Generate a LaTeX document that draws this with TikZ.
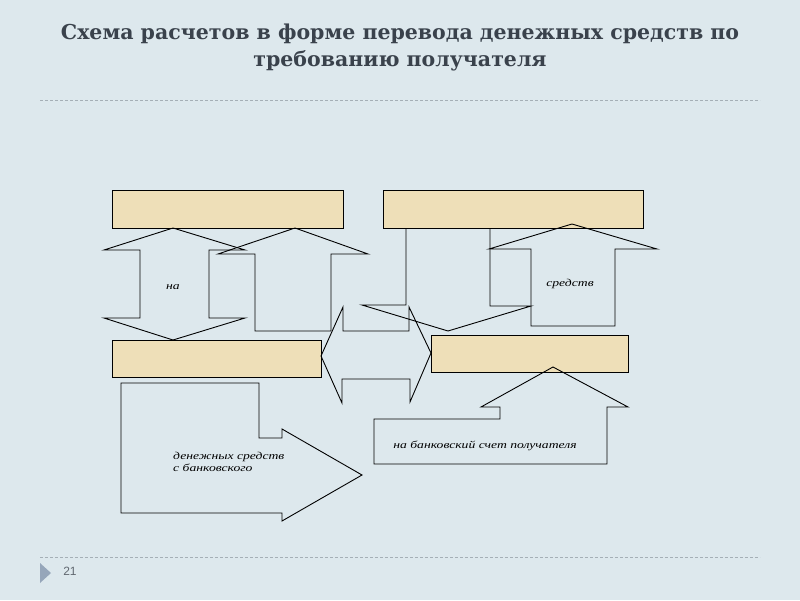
\documentclass[tikz,border=0pt]{standalone}
\usepackage{fontspec}
\setmainfont{Liberation Serif}
\newfontfamily\titlefont{DejaVu Serif}
\newfontfamily\numfont{Liberation Sans}
\definecolor{slidebg}{RGB}{221,232,237}
\definecolor{boxfill}{RGB}{238,223,184}
\definecolor{titlecol}{RGB}{58,66,76}
\definecolor{rulecol}{RGB}{165,175,182}
\definecolor{markcol}{RGB}{150,166,186}
\newcommand{\wide}[1]{\scalebox{1.3}[1]{#1}}
\tikzset{
	box/.style={draw=black,fill=boxfill,line width=1pt,minimum width=#1,minimum height=38pt,inner sep=0pt},
	blockarrow/.style={draw=black,line width=0.9pt,line join=miter},
	arrowtext/.style={font=\itshape\fontsize{10.5}{11.7}\selectfont,inner sep=0pt},
	slidetitle/.style={font=\titlefont\bfseries\fontsize{20.5}{27}\selectfont,text=titlecol,align=center},
	sliderule/.style={rulecol,line width=0.6pt,dash pattern=on 3pt off 2pt}
}
\begin{document}
\begin{tikzpicture}[x=1pt,y=-1pt]
		\fill[slidebg] (0,0) rectangle (800,600);
		\useasboundingbox (0,0) rectangle (800,600);
		
		\node[slidetitle] (title) at (400,47) {Схема расчетов в форме перевода денежных средств по\\требованию получателя};
		\draw[sliderule] (40,100) -- (760,100);
		\draw[sliderule] (40,557) -- (760,557);
		\fill[markcol] (40,563) -- (51,573) -- (40,583) -- cycle;
		\node[font=\numfont\fontsize{12}{14}\selectfont,text=titlecol!80] (pagenum) at (70,571) {21};
		
		\node[box=231pt] (payerbank) at (227.5,209) {};
		\node[box=260pt] (recipientbank) at (513,209) {};
		\node[box=209pt,minimum height=37pt] (payer) at (216.5,358.5) {};
		\node[box=197pt,minimum height=37pt] (recipient) at (529.5,353.5) {};
		
		\draw[blockarrow] (173,228) -- (245,250) -- (209,250) -- (209,318) -- (245,318) -- (173,340) -- (104,318) -- (140,318) -- (140,250) -- (104,250) -- cycle;
		\draw[blockarrow] (295,228) -- (368,254) -- (331,254) -- (331,331) -- (255,331) -- (255,254) -- (218,254) -- cycle;
		\draw[blockarrow] (321,356) -- (343,307) -- (343,331) -- (409,331) -- (409,307) -- (431,353) -- (410,402) -- (410,379) -- (342,379) -- (342,403) -- cycle;
		\draw[blockarrow] (406,228) -- (406,305) -- (362,305) -- (448,331) -- (531,306) -- (490,306) -- (490,228);
		\draw[blockarrow] (572,224) -- (657,249) -- (615,249) -- (615,326) -- (531,326) -- (531,249) -- (489,249) -- cycle;
		\draw[blockarrow] (121,383) -- (259,383) -- (259,438) -- (282,438) -- (282,429) -- (362,475) -- (282,521) -- (282,513) -- (121,513) -- cycle;
		\draw[blockarrow] (553,367) -- (628,407) -- (607,407) -- (607,464) -- (374,464) -- (374,419) -- (500,419) -- (500,407) -- (481,407) -- cycle;
		
		\node[arrowtext] (na) at (173,287) {\wide{на}};
		\node[arrowtext] (sredstv) at (570,284) {\wide{средств}};
		\node[arrowtext,anchor=west,align=left] (spisanie) at (173,462) {\wide{денежных средств}\\\wide{с банковского}};
		\node[arrowtext] (zachislenie) at (485,446) {\wide{на банковский счет получателя}};
	\end{tikzpicture}
\end{document}
